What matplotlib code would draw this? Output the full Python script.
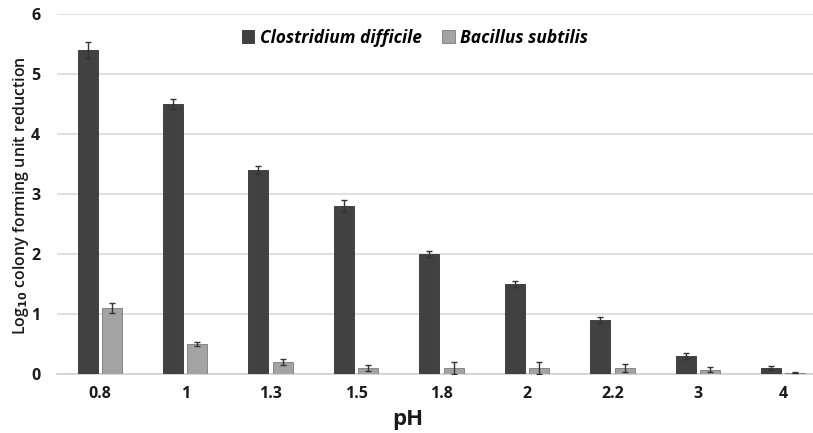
import numpy as np
import matplotlib.pyplot as plt

# data
ph_labels = ["0.8", "1", "1.3", "1.5", "1.8", "2", "2.2", "3", "4"]
c_diff = [5.4, 4.5, 3.4, 2.8, 2.0, 1.5, 0.9, 0.3, 0.1]
c_diff_err = [0.13, 0.08, 0.07, 0.1, 0.05, 0.05, 0.05, 0.05, 0.04]
b_sub = [1.1, 0.5, 0.2, 0.1, 0.1, 0.1, 0.1, 0.07, 0.02]
b_sub_err = [0.08, 0.04, 0.05, 0.05, 0.1, 0.1, 0.06, 0.04, 0.01]

plt.rcParams["font.family"] = ["Open Sans", "DejaVu Sans"]

W, H = 813, 433
fig = plt.figure(figsize=(W / 100, H / 100), dpi=100)
# axes run a bit past the right edge, like the cropped original
ax = fig.add_axes([57 / W, 1 - 374 / H, 769 / W, 360 / H])

x = np.arange(len(ph_labels))
bw = 0.235
gap = 0.025

ax.bar(x - bw / 2 - gap, c_diff, width=bw, color="#414141", edgecolor="#333333",
       linewidth=0.6, label="Clostridium difficile", zorder=3)
ax.bar(x + bw / 2 + gap, b_sub, width=bw, color="#a3a3a3", edgecolor="#7a7a7a",
       linewidth=0.6, label="Bacillus subtilis", zorder=3)

ax.errorbar(x - bw / 2 - gap, c_diff, yerr=c_diff_err, fmt="none", ecolor="#333333",
            elinewidth=1, capsize=2, capthick=1, zorder=4)
ax.errorbar(x + bw / 2 + gap, b_sub, yerr=b_sub_err, fmt="none", ecolor="#333333",
            elinewidth=1, capsize=2, capthick=1, zorder=4)

ax.set_xlim(-0.5, len(ph_labels) - 0.5)
ax.set_ylim(0, 6)
ax.set_yticks(range(0, 7))
ax.set_xticks(x)
ax.set_xticklabels(ph_labels)
ax.grid(axis="y", color="#d9d9d9", linewidth=1.2, zorder=0)
ax.set_axisbelow(True)

for s in ["top", "right", "left"]:
    ax.spines[s].set_visible(False)
ax.spines["bottom"].set_color("#d0d0d0")
ax.spines["bottom"].set_linewidth(1.2)

ax.tick_params(length=0, labelsize=11.5, labelcolor="#1a1a1a", pad=9)
ax.tick_params(axis="y", pad=12)
for lab in ax.get_xticklabels() + ax.get_yticklabels():
    lab.set_fontweight("bold")

fig.text(408 / W, 1 - 419 / H, "pH", ha="center", va="center",
         fontsize=16, fontweight="bold", color="#1a1a1a")
fig.text(21 / W, 1 - 196 / H, r"Log$_{\mathbf{10}}$ colony forming unit reduction",
         rotation=90, ha="center", va="center", fontsize=11.5,
         fontweight="semibold", color="#1a1a1a")

leg = ax.legend(loc="upper center", ncol=2, frameon=False,
                handlelength=0.7, handleheight=0.7, handletextpad=0.3,
                columnspacing=1.2, prop={"size": 12.5, "weight": "bold", "style": "italic"})
leg.set_bbox_to_anchor((415 / W, 1 - 13 / H), transform=fig.transFigure)

fig.savefig("out.png", dpi=100)
